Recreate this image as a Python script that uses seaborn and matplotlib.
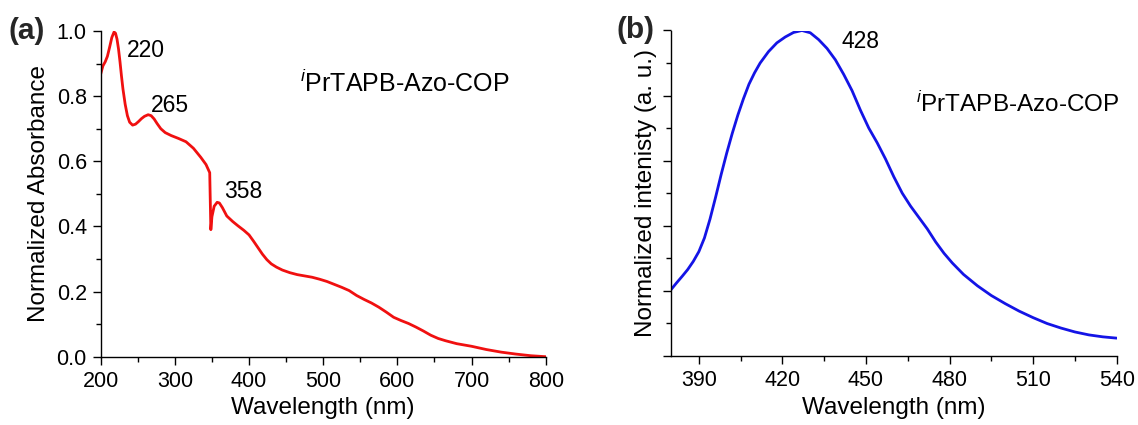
import matplotlib
matplotlib.use("Agg")
import matplotlib.pyplot as plt
import numpy as np
import pandas as pd
import seaborn as sns
from matplotlib.ticker import MultipleLocator, FormatStrFormatter, NullFormatter

# ---------------- data ----------------
abs_wavelength = [200, 203, 206, 209, 212, 215, 218, 220, 222, 224, 226, 228, 230, 233, 236,
                  239, 243, 247, 251, 255, 259, 264, 268, 272, 276, 281, 287, 295, 305, 315,
                  325, 335, 342, 347, 348.5, 350, 353, 357, 360, 364, 370, 378, 385, 393, 400,
                  406, 412, 418, 424, 430, 437, 445, 455, 465, 475, 485, 495, 505, 515, 525,
                  535, 545, 555, 565, 575, 585, 595, 605, 615, 625, 635, 645, 655, 665, 680,
                  700, 720, 740, 760, 780, 800]
abs_values = [0.868, 0.893, 0.905, 0.922, 0.950, 0.980, 0.997, 0.993, 0.975, 0.945, 0.906,
              0.862, 0.822, 0.775, 0.740, 0.720, 0.711, 0.714, 0.722, 0.731, 0.738, 0.743,
              0.740, 0.730, 0.716, 0.700, 0.688, 0.679, 0.670, 0.660, 0.640, 0.612, 0.590,
              0.565, 0.390, 0.430, 0.462, 0.474, 0.472, 0.458, 0.432, 0.415, 0.402, 0.388,
              0.374, 0.355, 0.335, 0.315, 0.298, 0.285, 0.275, 0.266, 0.258, 0.252, 0.248,
              0.244, 0.238, 0.231, 0.222, 0.213, 0.203, 0.188, 0.176, 0.165, 0.152, 0.137,
              0.121, 0.111, 0.102, 0.091, 0.079, 0.066, 0.056, 0.049, 0.040, 0.032, 0.022,
              0.014, 0.008, 0.003, 0.0]

pl_wavelength = [380, 382, 384, 386, 388, 390, 392, 394, 396, 398, 400, 402, 404, 406, 408,
                 410, 412, 415, 418, 421, 424, 427, 430, 433, 436, 439, 442, 445, 448, 451,
                 454, 457, 460, 463, 466, 469, 472, 475, 478, 481, 485, 490, 495, 500, 505,
                 510, 515, 520, 525, 530, 535, 540]
pl_values = [0.203, 0.224, 0.244, 0.265, 0.290, 0.320, 0.362, 0.420, 0.487, 0.557, 0.623,
             0.684, 0.740, 0.790, 0.835, 0.870, 0.900, 0.935, 0.962, 0.980, 0.994, 1.000,
             0.993, 0.972, 0.945, 0.910, 0.865, 0.815, 0.755, 0.700, 0.655, 0.605, 0.550,
             0.500, 0.460, 0.425, 0.390, 0.350, 0.315, 0.285, 0.250, 0.215, 0.185, 0.160,
             0.137, 0.117, 0.099, 0.085, 0.073, 0.064, 0.058, 0.054]

abs_peaks = ["220", "265", "358"]
pl_peaks = ["428"]
sample_name = r"$^{\mathit{i}}$PrTAPB-Azo-COP"

# ---------------- style ----------------
sns.set_theme(style="ticks")
plt.rcParams["font.family"] = ["Liberation Sans", "DejaVu Sans"]
plt.rcParams["mathtext.fontset"] = "custom"
plt.rcParams["mathtext.rm"] = "Liberation Sans"
plt.rcParams["mathtext.it"] = "Liberation Sans:italic"
plt.rcParams["mathtext.bf"] = "Liberation Sans:bold"

W, H = 1138, 425
fig = plt.figure(figsize=(W / 100, H / 100), dpi=100)
ax1 = fig.add_axes([100.7 / W, 1 - 356.7 / H, 445.0 / W, 325.7 / H])
ax2 = fig.add_axes([671.0 / W, 1 - 355.7 / H, 445.7 / W, 325.2 / H])

df_a = pd.DataFrame({"Wavelength": abs_wavelength, "Absorbance": abs_values})
df_b = pd.DataFrame({"Wavelength": pl_wavelength, "Intensity": pl_values})

sns.lineplot(data=df_a, x="Wavelength", y="Absorbance", ax=ax1, color="#f01010",
             lw=2.0, estimator=None, sort=False)
sns.lineplot(data=df_b, x="Wavelength", y="Intensity", ax=ax2, color="#1414e6",
             lw=2.0, estimator=None, sort=False)

for ax in (ax1, ax2):
    ax.spines[["top", "right"]].set_visible(False)
    for s in ("left", "bottom"):
        ax.spines[s].set_color("black")
        ax.spines[s].set_linewidth(1.0)
    ax.tick_params(which="major", direction="out", length=6, width=1.0, color="black",
                   labelsize=15.5, labelcolor="black", pad=4)
    ax.tick_params(which="minor", direction="out", length=3.5, width=1.0, color="black")
    ax.set_ylim(0, 1.0)
    ax.yaxis.set_major_locator(MultipleLocator(0.2))
    ax.yaxis.set_minor_locator(MultipleLocator(0.1))

ax1.set_xlim(200, 800)
ax1.xaxis.set_major_locator(MultipleLocator(100))
ax1.xaxis.set_minor_locator(MultipleLocator(50))
ax1.yaxis.set_major_formatter(FormatStrFormatter("%.1f"))

ax2.set_xlim(380, 540)
ax2.xaxis.set_major_locator(MultipleLocator(30))
ax2.xaxis.set_minor_locator(MultipleLocator(15))
ax2.yaxis.set_major_formatter(NullFormatter())

ax1.set_xlabel("Wavelength (nm)", fontsize=17.5, color="black")
ax1.set_ylabel("Normalized Absorbance", fontsize=17.5, color="black")
ax2.set_xlabel("Wavelength (nm)", fontsize=17.5, color="black")
ax2.set_ylabel("Normalized intenisty (a. u.)", fontsize=17.5, color="black")
ax1.xaxis.set_label_coords(0.5, -0.125)
ax2.xaxis.set_label_coords(0.5, -0.128)
ax1.yaxis.set_label_coords(-0.1146, 0.5)
ax2.yaxis.set_label_coords(-0.0325, 0.5)

# annotations
ann_kw = dict(fontsize=16.5, color="black", ha="left", va="baseline")
ax1.text(235.5, 0.921, abs_peaks[0], **ann_kw)
ax1.text(267.8, 0.750, abs_peaks[1], **ann_kw)
ax1.text(366.7, 0.486, abs_peaks[2], **ann_kw)
ax1.text(468.7, 0.814, sample_name, fontsize=18, color="black", ha="left", va="baseline")

ax2.text(441.3, 0.945, pl_peaks[0], **ann_kw)
ax2.text(468.0, 0.750, sample_name, fontsize=17.5, color="black", ha="left", va="baseline")

fig.text(27 / W, 1 - 31 / H, "(a)", fontsize=21.5, fontweight="bold", ha="center", va="center")
fig.text(636 / W, 1 - 30 / H, "(b)", fontsize=21.5, fontweight="bold", ha="center", va="center")

fig.savefig("out.png", dpi=100, facecolor="white")
